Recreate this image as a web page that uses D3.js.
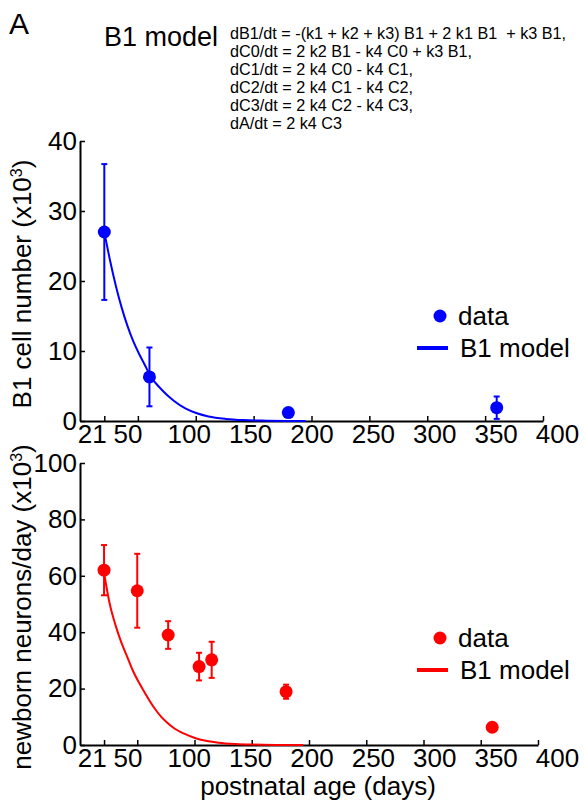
<!DOCTYPE html>
<html>
<head>
<meta charset="utf-8">
<script src="https://cdn.jsdelivr.net/npm/d3@7"></script>
<style>
  body { margin: 0; background: #fff; }
  text { font-family: "Liberation Sans", Arial, Helvetica, sans-serif; fill: #000; }
</style>
</head>
<body>
<svg width="585" height="803"></svg>
<script>
// Tick values
const ageTicks = [21, 50, 100, 150, 200, 250, 300, 350, 400];
const b1Ticks = [0, 10, 20, 30, 40];
const nbTicks = [0, 20, 40, 60, 80, 100];

// B1 cell number data (x10^3)
const b1Age = [21, 60, 180, 360];
const b1Mean = [27.0, 6.3, 1.2, 1.9];
const b1Err = [9.7, 4.2, 0.3, 1.6];

// B1 model curve
const b1ModelAge = [21, 26, 31, 36, 41, 46, 51, 56, 61, 71, 81, 91, 101, 111, 126, 141, 161, 195];
const b1ModelVal = [27.0, 22.9, 19.3, 16.2, 13.6, 11.4, 9.6, 8.0, 6.4, 4.4, 2.9, 1.8, 1.1, 0.65, 0.3, 0.13, 0.05, 0.0];

// newborn neurons/day data (x10^3)
const nbAge = [21, 50, 77, 104, 115, 180, 360];
const nbMean = [62.0, 54.7, 39.0, 27.8, 30.2, 18.9, 6.3];
const nbErr = [8.9, 13.1, 4.9, 4.9, 6.4, 2.5, 0];

// neuron model curve
const nbModelAge = [21, 26, 31, 36, 41, 46, 51, 56, 61, 66, 71, 76, 81, 91, 101, 111, 121, 136, 151, 171, 195];
const nbModelVal = [61, 50, 42.5, 36.5, 31.5, 26.5, 22.5, 19, 15.5, 12.5, 10, 8, 6.3, 4, 2.4, 1.4, 0.8, 0.35, 0.15, 0.04, 0];

const equations = [
  "dB1/dt = -(k1 + k2 + k3) B1 + 2 k1 B1  + k3 B1,",
  "dC0/dt = 2 k2 B1 - k4 C0 + k3 B1,",
  "dC1/dt = 2 k4 C0 - k4 C1,",
  "dC2/dt = 2 k4 C1 - k4 C2,",
  "dC3/dt = 2 k4 C2 - k4 C3,",
  "dA/dt = 2 k4 C3"
];

const svg = d3.select("svg");
const FS = 26;

// Panel letter, title and equations
svg.append("text").attr("x", 9).attr("y", 34).style("font-size", "30px").text("A");
svg.append("text").attr("x", 104).attr("y", 46).style("font-size", "27px").text("B1 model");
svg.append("text")
  .attr("x", 230).attr("y", 39)
  .style("font-size", "16.2px")
  .style("white-space", "pre")
  .selectAll("tspan")
  .data(equations)
  .join("tspan")
  .attr("x", 230)
  .attr("dy", (d, i) => i === 0 ? 0 : 18)
  .text(d => d);

function drawPanel(cfg) {
  const x = d3.scaleLinear().domain([0, 400]).range(cfg.xRange);
  // tick labels sit a bit wider than the ticks in the original figure
  const xl = d3.scaleLinear().domain([0, 400]).range([66, 557]);
  const y = d3.scaleLinear().domain(cfg.yDomain).range(cfg.yRange);
  const g = svg.append("g");

  // x axis
  const xa = g.append("g")
    .attr("transform", `translate(0,${cfg.yRange[0]})`)
    .call(d3.axisBottom(x).tickValues(ageTicks).tickSizeInner(-5).tickSizeOuter(0).tickPadding(4));
  xa.selectAll("text").attr("x", d => xl(d) - x(d)).style("font-size", FS + "px");

  // y axis
  const ya = g.append("g")
    .attr("transform", `translate(${cfg.xRange[0]},0)`)
    .call(d3.axisLeft(y).tickValues(cfg.yTicks).tickSizeInner(-5).tickSizeOuter(0).tickPadding(3));
  ya.selectAll("text").style("font-size", FS + "px");

  g.selectAll(".domain").attr("stroke", "#000").attr("stroke-width", 2);
  g.selectAll(".tick line").attr("stroke", "#000").attr("stroke-width", 1.5);

  // model curve
  const model = cfg.modelAge.map((a, i) => ({ a, v: cfg.modelVal[i] }));
  g.append("path")
    .datum(model)
    .attr("fill", "none")
    .attr("stroke", cfg.color)
    .attr("stroke-width", 2)
    .attr("d", d3.line().x(d => x(d.a)).y(d => y(d.v)).curve(d3.curveMonotoneX));

  // data with error bars
  const pts = cfg.age.map((a, i) => ({ a, m: cfg.mean[i], e: cfg.err[i] }));
  const eb = g.append("g").selectAll("g").data(pts.filter(d => d.e > 0)).join("g")
    .attr("stroke", cfg.color).attr("stroke-width", 2);
  eb.append("line")
    .attr("x1", d => x(d.a)).attr("x2", d => x(d.a))
    .attr("y1", d => y(d.m - d.e)).attr("y2", d => y(d.m + d.e));
  eb.append("line")
    .attr("x1", d => x(d.a) - 3).attr("x2", d => x(d.a) + 3)
    .attr("y1", d => y(d.m + d.e)).attr("y2", d => y(d.m + d.e));
  eb.append("line")
    .attr("x1", d => x(d.a) - 3).attr("x2", d => x(d.a) + 3)
    .attr("y1", d => y(d.m - d.e)).attr("y2", d => y(d.m - d.e));
  g.append("g").selectAll("circle").data(pts).join("circle")
    .attr("cx", d => x(d.a)).attr("cy", d => y(d.m))
    .attr("r", 6.5).attr("fill", cfg.color);

  // legend
  const lg = g.append("g").attr("transform", `translate(0,${cfg.legendY})`);
  lg.append("circle").attr("cx", 440).attr("cy", 0).attr("r", 6.5).attr("fill", cfg.color);
  lg.append("text").attr("x", 458).attr("y", 0).attr("dy", "0.35em").style("font-size", FS + "px").text("data");
  lg.append("line").attr("x1", 417).attr("x2", 448).attr("y1", 32).attr("y2", 32)
    .attr("stroke", cfg.color).attr("stroke-width", 4);
  lg.append("text").attr("x", 460).attr("y", 32).attr("dy", "0.35em").style("font-size", FS + "px").text("B1 model");

  // y label
  const yl = svg.append("text")
    .attr("transform", `translate(31,${(cfg.yRange[0] + cfg.yRange[1]) / 2 + 3}) rotate(-90)`)
    .attr("text-anchor", "middle")
    .style("font-size", FS + "px");
  yl.append("tspan").text(cfg.yLabel + " (x10");
  yl.append("tspan").attr("dy", -9).style("font-size", "16px").text("3");
  yl.append("tspan").attr("dy", 9).text(")");
}

drawPanel({
  xRange: [80, 543], yRange: [421, 141], yDomain: [0, 40], yTicks: b1Ticks,
  age: b1Age, mean: b1Mean, err: b1Err,
  modelAge: b1ModelAge, modelVal: b1ModelVal,
  color: "#0000ff", legendY: 316, yLabel: "B1 cell number"
});

drawPanel({
  xRange: [80, 538], yRange: [745, 463], yDomain: [0, 100], yTicks: nbTicks,
  age: nbAge, mean: nbMean, err: nbErr,
  modelAge: nbModelAge, modelVal: nbModelVal,
  color: "#ff0000", legendY: 638, yLabel: "newborn neurons/day"
});

// x label
svg.append("text")
  .attr("x", 318).attr("y", 795)
  .attr("text-anchor", "middle")
  .style("font-size", FS + "px")
  .text("postnatal age (days)");
</script>
</body>
</html>
